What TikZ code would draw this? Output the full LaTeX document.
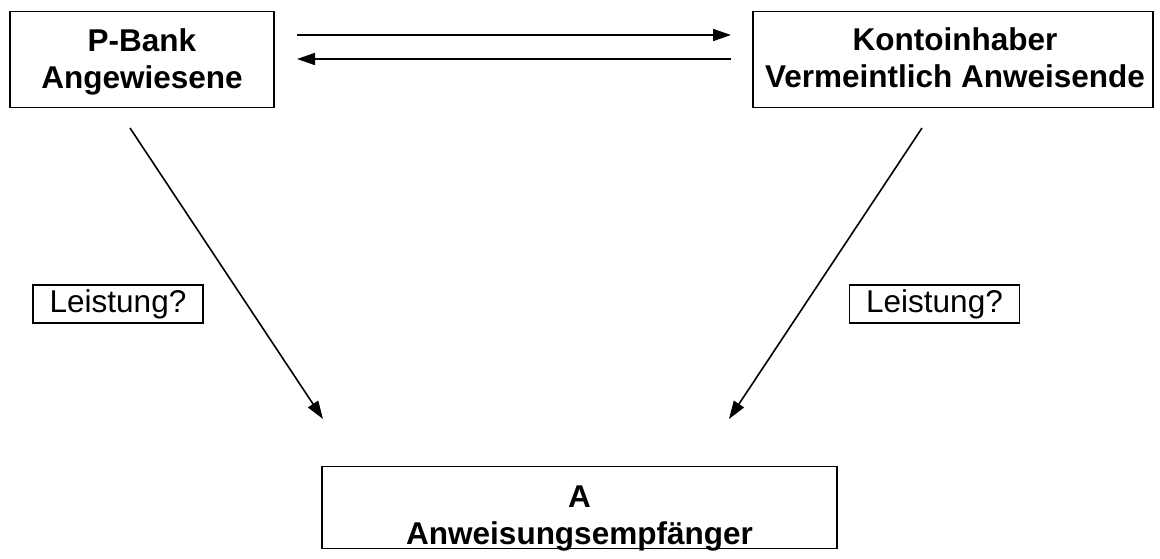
\documentclass[tikz,border=0pt]{standalone}
\usepackage{fontspec}
\setmainfont{Liberation Sans}
\usetikzlibrary{arrows.meta}
\begin{document}
\begin{tikzpicture}[x=1pt,y=-1pt,
  boxshape/.style={draw, line width=1.8pt, rectangle, inner sep=0pt},
  bigtxt/.style={font=\fontsize{31.5}{37}\selectfont\bfseries, align=center, inner sep=0pt},
  smalltxt/.style={font=\fontsize{31.5}{37}\selectfont, inner sep=0pt},
  arr/.style={line width=1.6pt, -{Triangle[length=18pt,width=12pt]}}]
\useasboundingbox (0,0) rectangle (1160,558);
% boxes
\node[boxshape, minimum width=264pt, minimum height=96pt] (pb) at (142,59.5) {};
\node[bigtxt] (pbt) at (142,61.5) {P-Bank\\Angewiesene};
\node[boxshape, minimum width=400pt, minimum height=96pt] (kh) at (953,59.5) {};
\node[bigtxt] (kht) at (955,58) {Kontoinhaber\\Vermeintlich Anweisende};
\node[boxshape, minimum width=515pt, minimum height=82pt] (ae) at (579.5,507.5) {};
\node[bigtxt] (aet) at (579.5,518) {A\\Anweisungsempfänger};
% labels
\node[boxshape, minimum width=170pt, minimum height=38pt] (l1) at (118,304) {};
\node[smalltxt] (l1t) at (118,304) {Leistung?};
\node[boxshape, minimum width=170pt, minimum height=38pt] (l2) at (934.5,304) {};
\node[smalltxt] (l2t) at (934.5,304) {Leistung?};
% connector ends
\coordinate (t1s) at (297,35);
\coordinate (t1e) at (731,35);
\coordinate (t2s) at (731,59);
\coordinate (t2e) at (297,59);
\coordinate (d1s) at (130,128);
\coordinate (d1e) at (323,419);
\coordinate (d2s) at (922,128);
\coordinate (d2e) at (729,419);
\draw[arr] (t1s) -- (t1e);
\draw[arr] (t2s) -- (t2e);
\draw[arr] (d1s) -- (d1e);
\draw[arr] (d2s) -- (d2e);
\end{tikzpicture}
\end{document}
